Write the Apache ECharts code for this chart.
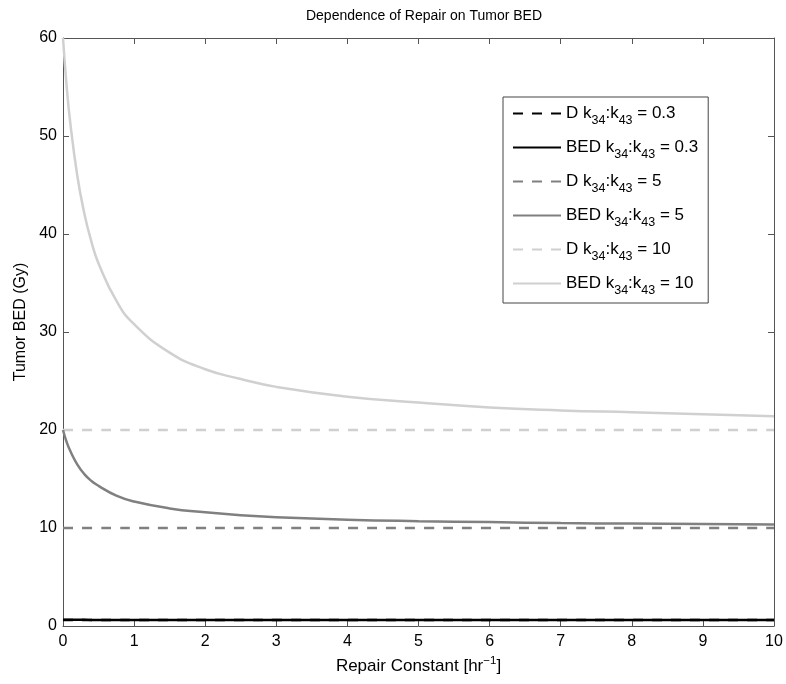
<!DOCTYPE html>
<html>
<head>
<meta charset="utf-8">
<script src="https://cdn.jsdelivr.net/npm/echarts@6/dist/echarts.min.js"></script>
<style>
  html, body { margin: 0; padding: 0; background: #fff; }
  #main { width: 786px; height: 684px; }
</style>
</head>
<body>
<div id="main"></div>
<script>
// repair constant values (hr^-1)
var kRepair = [0, 0.05, 0.1, 0.2, 0.3, 0.4, 0.5, 0.75, 1, 1.5, 2, 2.5, 3, 4, 5, 6, 7, 8, 9, 10];

// tumor BED / dose (Gy)
var dLow = [0.6, 0.6, 0.6, 0.6, 0.6, 0.6, 0.6, 0.6, 0.6, 0.6, 0.6, 0.6, 0.6, 0.6, 0.6, 0.6, 0.6, 0.6, 0.6, 0.6];
var bedLow = [0.65, 0.64, 0.64, 0.63, 0.63, 0.62, 0.62, 0.62, 0.61, 0.61, 0.61, 0.6, 0.6, 0.6, 0.6, 0.6, 0.6, 0.6, 0.6, 0.6];
var dMid = [10, 10, 10, 10, 10, 10, 10, 10, 10, 10, 10, 10, 10, 10, 10, 10, 10, 10, 10, 10];
var bedMid = [20, 18.8, 17.9, 16.5, 15.5, 14.8, 14.3, 13.3, 12.7, 12.0, 11.6, 11.3, 11.1, 10.85, 10.7, 10.6, 10.5, 10.45, 10.4, 10.35];
var dHigh = [20, 20, 20, 20, 20, 20, 20, 20, 20, 20, 20, 20, 20, 20, 20, 20, 20, 20, 20, 20];
var bedHigh = [60, 55.2, 51.5, 46.0, 42.1, 39.2, 37.0, 33.2, 30.8, 27.9, 26.2, 25.2, 24.4, 23.4, 22.8, 22.3, 22.0, 21.8, 21.6, 21.4];

var seriesNames = ['dLow', 'bedLow', 'dMid', 'bedMid', 'dHigh', 'bedHigh'];
var legendText = {
  dLow: 'D k{s|34}:k{s|43} = 0.3',
  bedLow: 'BED k{s|34}:k{s|43} = 0.3',
  dMid: 'D k{s|34}:k{s|43} = 5',
  bedMid: 'BED k{s|34}:k{s|43} = 5',
  dHigh: 'D k{s|34}:k{s|43} = 10',
  bedHigh: 'BED k{s|34}:k{s|43} = 10'
};
var seriesData = [dLow, bedLow, dMid, bedMid, dHigh, bedHigh];
var colors = ['#000000', '#000000', '#808080', '#808080', '#d0d0d0', '#d0d0d0'];
var dashed = [true, false, true, false, true, false];

var font = 'Liberation Sans, Arial, Helvetica, sans-serif';
var axisColor = '#555';

function pairs(ys) {
  return kRepair.map(function (k, i) { return [k, ys[i]]; });
}

var series = seriesNames.map(function (name, i) {
  return {
    name: name,
    type: 'line',
    data: pairs(seriesData[i]),
    smooth: true,
    symbol: 'none',
    showSymbol: false,
    z: 10 - i,
    lineStyle: {
      color: colors[i],
      width: 2.5,
      type: dashed[i] ? [10, 9] : 'solid'
    },
    itemStyle: { color: colors[i] }
  };
});
// empty series so the top / right axes get drawn
series.push({ type: 'line', xAxisIndex: 1, yAxisIndex: 1, data: [], silent: true });

var tick = { inside: true, length: 6, lineStyle: { color: axisColor, width: 1 } };
var line = { show: true, onZero: false, lineStyle: { color: axisColor, width: 1 } };

var chart = echarts.init(document.getElementById('main'));
chart.setOption({
  animation: false,
  backgroundColor: '#fff',
  title: {
    text: 'Dependence of Repair on Tumor BED',
    left: 419, top: 4, textAlign: 'center',
    textStyle: { fontFamily: font, fontSize: 14, fontWeight: 'normal', color: '#000' }
  },
  grid: { left: 63, right: 12, top: 38, bottom: 58, containLabel: false },
  legend: {
    orient: 'vertical',
    left: 503, top: 97,
    padding: [8, 10, 6, 9],
    itemWidth: 48, itemHeight: 14,
    itemGap: 12,
    borderColor: '#444', borderWidth: 1,
    backgroundColor: '#fff',
    itemStyle: { opacity: 0 },
    data: seriesNames,
    formatter: function (n) { return legendText[n]; },
    textStyle: {
      fontFamily: font, fontSize: 17, color: '#000',
      rich: { s: { fontFamily: font, fontSize: 12.5, padding: [14, 0, 0, 0], color: '#000' } }
    }
  },
  xAxis: [{
    type: 'value', min: 0, max: 10, interval: 1,
    name: 'Repair Constant [hr{sup|\u22121}]', nameLocation: 'middle', nameGap: 28,
    nameTextStyle: {
      fontFamily: font, fontSize: 17, color: '#000',
      rich: { sup: { fontFamily: font, fontSize: 11.5, padding: [0, 0, 10, 0], color: '#000' } }
    },
    axisLine: line,
    axisTick: tick,
    axisLabel: { fontFamily: font, fontSize: 16, color: '#000', margin: 8 },
    splitLine: { show: false }
  }, {
    type: 'value', min: 0, max: 10, interval: 1, position: 'top',
    axisLine: line,
    axisTick: tick,
    axisLabel: { show: false },
    splitLine: { show: false }
  }],
  yAxis: [{
    type: 'value', min: 0, max: 60, interval: 10,
    name: 'Tumor BED (Gy)', nameLocation: 'middle', nameGap: 30, nameRotate: 90,
    nameTextStyle: { fontFamily: font, fontSize: 16, color: '#000', padding: [0, 0, 0, 20] },
    axisLine: line,
    axisTick: { show: true, inside: true, length: 6, lineStyle: { color: axisColor, width: 1 } },
    axisLabel: { fontFamily: font, fontSize: 16, color: '#000', margin: 6 },
    splitLine: { show: false }
  }, {
    type: 'value', min: 0, max: 60, interval: 10, position: 'right',
    axisLine: line,
    axisTick: { show: true, inside: true, length: 6, lineStyle: { color: axisColor, width: 1 } },
    axisLabel: { show: false },
    splitLine: { show: false }
  }],
  series: series
});
</script>
</body>
</html>
